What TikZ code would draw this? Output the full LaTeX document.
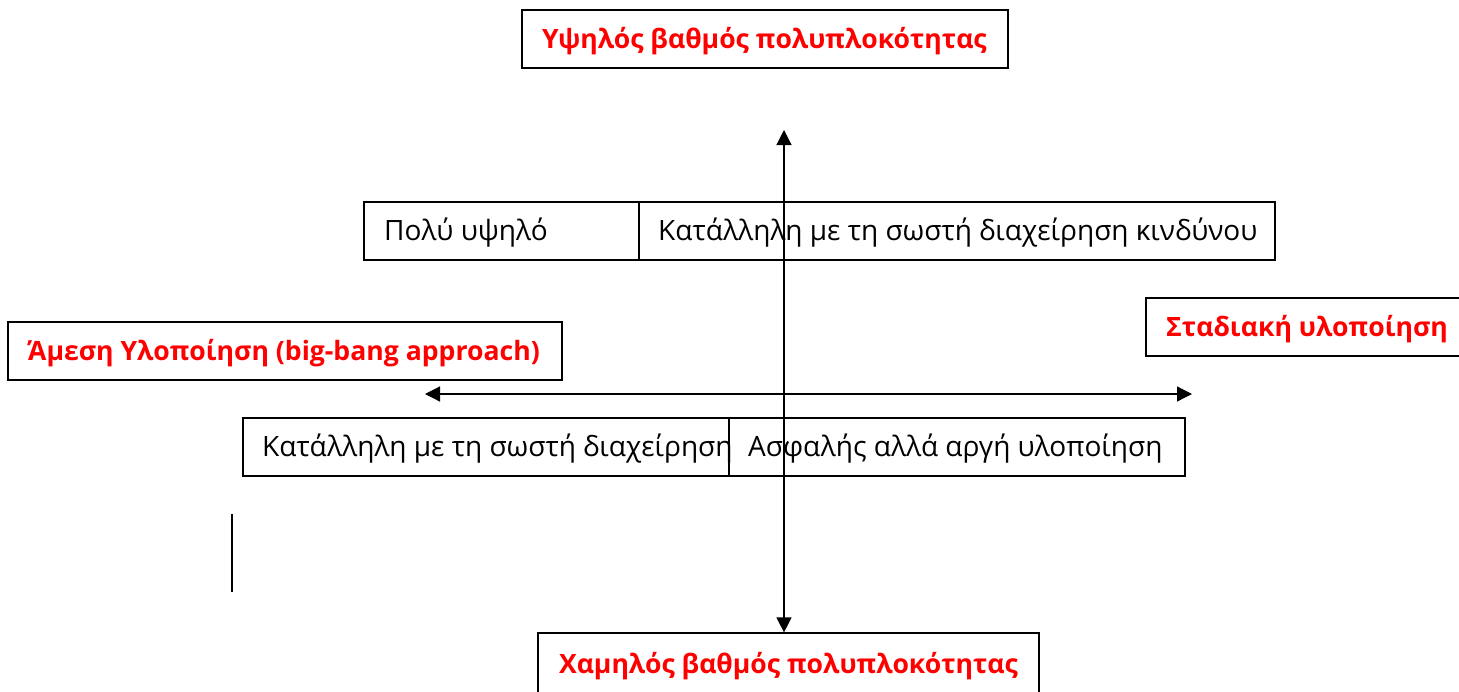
\documentclass[tikz,border=0pt]{standalone}
\usepackage{fontspec}
\setmainfont{Open Sans}
\usetikzlibrary{arrows.meta}
\definecolor{hlred}{RGB}{255,0,0}
\begin{document}
\begin{tikzpicture}[x=1pt,y=-1pt,
  box/.style={draw=black, line width=1.2pt, fill=white, inner sep=0pt, minimum height=58pt},
  txt/.style={font=\fontsize{28}{32}\selectfont, inner sep=0pt, anchor=west},
  hl/.style={font=\fontsize{26.6}{30}\selectfont\bfseries, text=hlred, inner sep=0pt},
  axis/.style={line width=1.2pt, {Triangle[length=15pt,width=15pt]}-{Triangle[length=15pt,width=15pt]}}]
\useasboundingbox (0,0) rectangle (1459,691);
% boxes
\node[box, minimum width=486pt] (topbox) at (765,39) {};
\node[box, minimum width=393pt] (veryhigh) at (560.5,231) {};
\node[box, minimum width=636pt] (riskmgmt) at (957,231) {};
\node[box, minimum width=554pt] (bigbang) at (285,351) {};
\node[box, minimum width=320pt] (gradual) at (1306,327) {};
\node[box, minimum width=638pt] (proper) at (562,447) {};
\node[box, minimum width=456pt] (safe) at (957,447) {};
\node[box, minimum width=501pt, minimum height=64pt] (botbox) at (788.5,665) {};
% texts
\node[hl] (toptext) at (764.5,41) {Υψηλός βαθμός πολυπλοκότητας};
\node[txt] (veryhightext) at (384,233) {Πολύ υψηλό};
\node[txt] (riskmgmttext) at (658,233) {Κατάλληλη με τη σωστή διαχείρηση κινδύνου};
\node[hl] (bigbangtext) at (284,353) {Άμεση Υλοποίηση (big-bang approach)};
\node[hl, anchor=west] (gradualtext) at (1166,329) {Σταδιακή υλοποίηση};
\node[txt] (propertext) at (262,449) {Κατάλληλη με τη σωστή διαχείρηση};
\node[txt] (safetext) at (748,449) {Ασφαλής αλλά αργή υλοποίηση};
\node[hl] (bottext) at (788.5,666) {Χαμηλός βαθμός πολυπλοκότητας};
% axes
\coordinate (vtop) at (784,130);
\coordinate (left) at (425,394);
\coordinate (right) at (1192,394);
\draw[axis] (vtop) -- (vtop |- botbox.north);
\draw[axis] (left) -- (right);
% stray line
\coordinate (s1) at (232,514);
\coordinate (s2) at (232,592);
\draw[line width=1.8pt] (s1) -- (s2);
\end{tikzpicture}
\end{document}
